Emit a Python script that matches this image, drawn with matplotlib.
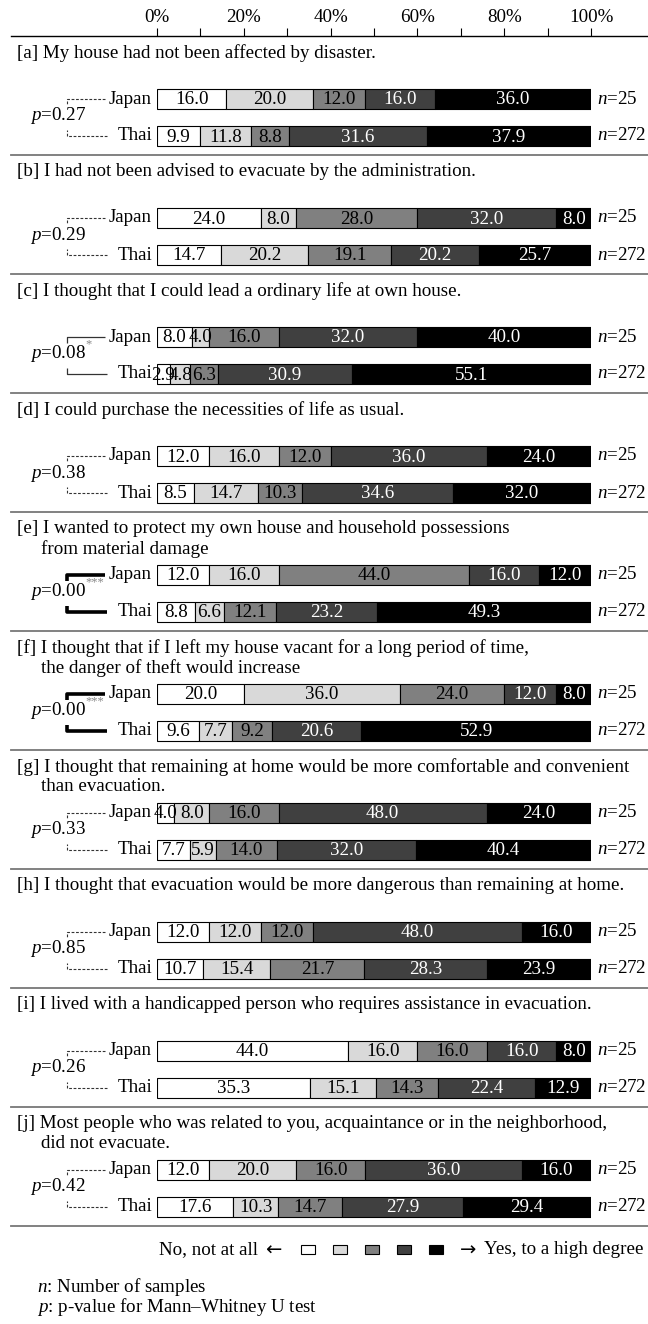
import numpy as np
import matplotlib.pyplot as plt
from matplotlib.patches import Rectangle

plt.rcParams['font.family'] = ['Liberation Serif', 'DejaVu Sans']
plt.rcParams['font.size'] = 13.7
plt.rcParams['mathtext.fontset'] = 'custom'
plt.rcParams['mathtext.rm'] = 'Liberation Serif'
plt.rcParams['mathtext.it'] = 'Liberation Serif:italic'

# ---- data ----
titles = [
    ["[a] My house had not been affected by disaster."],
    ["[b] I had not been advised to evacuate by the administration."],
    ["[c] I thought that I could lead a ordinary life at own house."],
    ["[d] I could purchase the necessities of life as usual."],
    ["[e] I wanted to protect my own house and household possessions",
     "from material damage"],
    ["[f] I thought that if I left my house vacant for a long period of time,",
     "the danger of theft would increase"],
    ["[g] I thought that remaining at home would be more comfortable and convenient",
     "than evacuation."],
    ["[h] I thought that evacuation would be more dangerous than remaining at home."],
    ["[i] I lived with a handicapped person who requires assistance in evacuation."],
    ["[j] Most people who was related to you, acquaintance or in the neighborhood,",
     "did not evacuate."],
]
japan = [
    [16.0, 20.0, 12.0, 16.0, 36.0],
    [24.0, 8.0, 28.0, 32.0, 8.0],
    [8.0, 4.0, 16.0, 32.0, 40.0],
    [12.0, 16.0, 12.0, 36.0, 24.0],
    [12.0, 16.0, 44.0, 16.0, 12.0],
    [20.0, 36.0, 24.0, 12.0, 8.0],
    [4.0, 8.0, 16.0, 48.0, 24.0],
    [12.0, 12.0, 12.0, 48.0, 16.0],
    [44.0, 16.0, 16.0, 16.0, 8.0],
    [12.0, 20.0, 16.0, 36.0, 16.0],
]
thai = [
    [9.9, 11.8, 8.8, 31.6, 37.9],
    [14.7, 20.2, 19.1, 20.2, 25.7],
    [2.9, 4.8, 6.3, 30.9, 55.1],
    [8.5, 14.7, 10.3, 34.6, 32.0],
    [8.8, 6.6, 12.1, 23.2, 49.3],
    [9.6, 7.7, 9.2, 20.6, 52.9],
    [7.7, 5.9, 14.0, 32.0, 40.4],
    [10.7, 15.4, 21.7, 28.3, 23.9],
    [35.3, 15.1, 14.3, 22.4, 12.9],
    [17.6, 10.3, 14.7, 27.9, 29.4],
]
p_values = ["0.27", "0.29", "0.08", "0.38", "0.00", "0.00", "0.33", "0.85", "0.26", "0.42"]
stars = ["", "", "*", "", "***", "***", "", "", "", ""]
countries = ["Japan", "Thai"]
n_samples = [25, 272]

colors = ['white', '#d9d9d9', '#808080', '#404040', 'black']
text_colors = ['black', 'black', 'black', 'white', 'white']

W, H = 648, 1324
TOP = 36
PANEL = 119


def px(x):
    # pixel column -> percent axis
    return (x - 157) / 434 * 100


fig = plt.figure(figsize=(W / 100, H / 100), dpi=100)
ax = fig.add_axes([157 / W, 0, 434 / W, (H - TOP) / H])
ax.set_xlim(0, 100)
ax.set_ylim(H, TOP)
for s in ax.spines.values():
    s.set_visible(False)
ax.set_yticks([])
ax.xaxis.tick_top()
ax.set_xticks(range(0, 101, 20))
ax.set_xticklabels([f"{v}%" for v in range(0, 101, 20)])
ax.set_xticks(range(10, 100, 20), minor=True)
ax.tick_params(which='both', direction='out', length=6, width=0.8,
               top=True, bottom=False, labeltop=True, labelbottom=False, pad=1)

# top axis line
ax.plot([px(11), px(648)], [TOP, TOP], color='black', lw=1, clip_on=False)

bracket_styles = {
    "": dict(color='#333333', lw=0.8, ls=(0, (2.5, 1.5))),
    "*": dict(color='#333333', lw=0.9, ls='-'),
    "***": dict(color='black', lw=2.6, ls='-'),
}

for k in range(len(titles)):
    S = TOP + PANEL * k
    for i, line in enumerate(titles[k]):
        ax.text(px(17 if i == 0 else 41), S + 17 + 20 * i, line,
                ha='left', va='center', clip_on=False)

    ys = [S + 63, S + 100]
    for row, vals in enumerate([japan[k], thai[k]]):
        y = ys[row]
        vals = np.array(vals)
        left = np.concatenate([[0], np.cumsum(vals)[:-1]])
        ax.barh([y] * len(vals), vals, left=left, height=20, color=colors,
                edgecolor='black', linewidth=0.8)
        for l, v, tc in zip(left, vals, text_colors):
            ax.text(l + v / 2, y + 1, f"{v:.1f}", ha='center', va='center',
                    color=tc, clip_on=False)
        ax.text(px(152), y, countries[row], ha='right', va='center', clip_on=False)
        ax.text(px(597), y, rf"$n$={n_samples[row]}", ha='left', va='center',
                clip_on=False)

    st = bracket_styles[stars[k]]
    ax.plot([px(105), px(67), px(67)], [ys[0], ys[0], ys[0] + 6],
            clip_on=False, solid_capstyle='butt', **st)
    ax.plot([px(107), px(67), px(67)], [ys[1], ys[1], ys[1] - 6],
            clip_on=False, solid_capstyle='butt', **st)
    pt = ax.text(px(30), S + 80, rf"$p$={p_values[k]}", ha='left', va='center',
                 clip_on=False)
    if stars[k]:
        ax.annotate(stars[k], xy=(1, 0.95), xycoords=pt, ha='left', va='center',
                    fontsize=9, color='#888888')

    # separator under the panel
    ax.plot([px(11), px(648)], [S + PANEL, S + PANEL], color='#777777', lw=1.3,
            clip_on=False)

# legend
LY = 1250
ax.text(px(258), LY, "No, not at all", ha='right', va='center', clip_on=False)
ax.text(px(273), LY, "←", ha='center', va='center', family='DejaVu Sans',
        fontsize=14, clip_on=False)
for i, c in enumerate(colors):
    cx = 307.5 + 32 * i
    ax.add_patch(Rectangle((px(cx - 7), LY - 4.5), 14 / 434 * 100, 9,
                           facecolor=c, edgecolor='black', lw=0.8, clip_on=False))
ax.text(px(468), LY, "→", ha='center', va='center', family='DejaVu Sans',
        fontsize=14, clip_on=False)
ax.text(px(484), LY, "Yes, to a high degree", ha='left', va='center', clip_on=False)

ax.text(px(37), 1287, r"$n$: Number of samples", ha='left', va='center', clip_on=False)
ax.text(px(37), 1307, r"$p$: p-value for Mann–Whitney U test", ha='left', va='center',
        clip_on=False)

fig.savefig('out.png', dpi=100)
